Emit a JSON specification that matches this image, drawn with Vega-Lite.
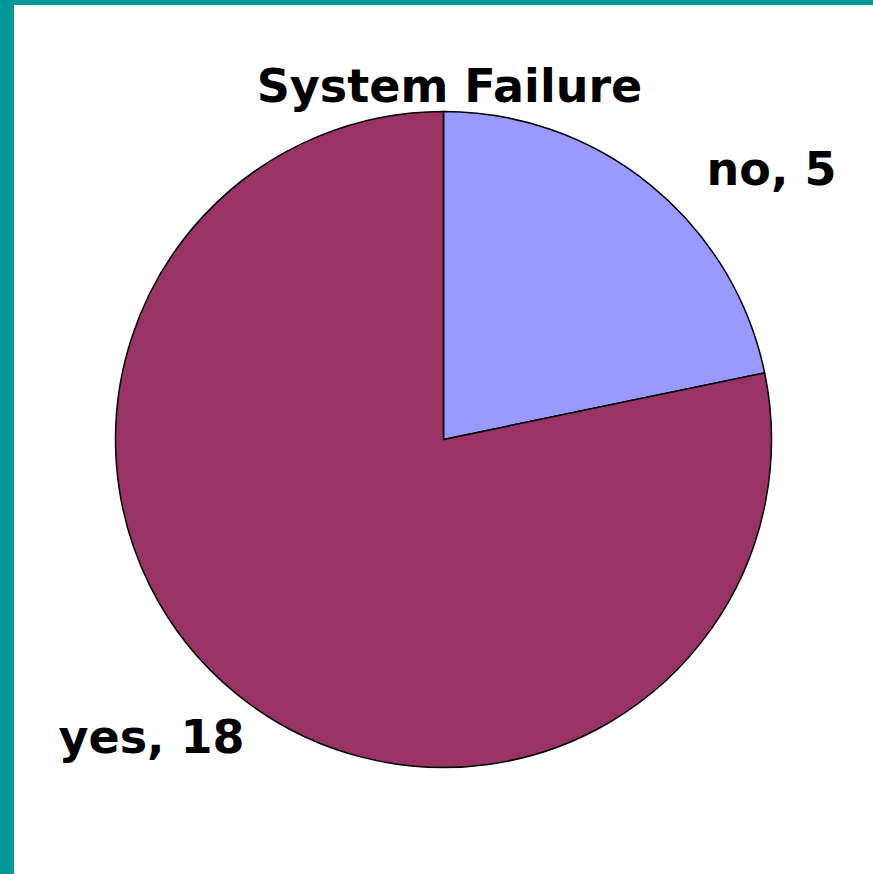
{
  "$schema": "https://vega.github.io/schema/vega-lite/v6.json",
  "autosize": "none",
  "width": 859,
  "height": 869,
  "padding": {"left": 14, "top": 5, "right": 0, "bottom": 0},
  "background": "#009999",
  "view": {"fill": "white", "stroke": null},
  "title": {
    "text": "System Failure",
    "font": "DejaVu Sans",
    "fontWeight": "bold",
    "fontSize": 46,
    "color": "black",
    "anchor": "middle",
    "baseline": "alphabetic",
    "offset": -143,
    "dx": 6
  },
  "data": {
    "values": [
      {"cat": "no", "n": 5, "label": "no, 5"},
      {"cat": "yes", "n": 18, "label": "yes, 18"}
    ]
  },
  "encoding": {
    "theta": {"field": "n", "type": "quantitative", "stack": true},
    "color": {
      "field": "cat",
      "type": "nominal",
      "scale": {"domain": ["no", "yes"], "range": ["#9999FF", "#993366"]},
      "legend": null
    }
  },
  "layer": [
    {
      "mark": {"type": "arc", "radius": 328, "stroke": "black", "strokeWidth": 1.5}
    },
    {
      "mark": {
        "type": "text",
        "radius": {"expr": "datum.cat == 'no' ? 328 : 404"},
        "dx": {"expr": "datum.cat == 'no' ? 121 : -37"},
        "align": "center",
        "baseline": "alphabetic",
        "font": "DejaVu Sans",
        "fontWeight": "bold",
        "fontSize": 46
      },
      "encoding": {"text": {"field": "label"}, "color": {"value": "black"}}
    }
  ]
}
